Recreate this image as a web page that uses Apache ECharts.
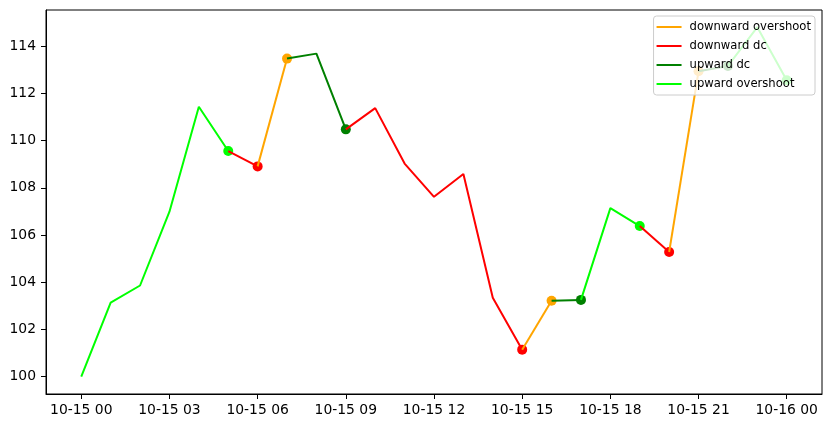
<!DOCTYPE html>
<html>
<head>
<meta charset="utf-8">
<script src="https://cdn.jsdelivr.net/npm/echarts@6/dist/echarts.min.js"></script>
<style>
html,body{margin:0;padding:0;background:#fff;}
#chart{width:831px;height:428px;}
</style>
</head>
<body>
<div id="chart"></div>
<script>
// hours since 10-15 00:00
const hours = [0,1,2,3,4,5,6,7,8,9,10,11,12,13,14,15,16,17,18,19,20,21,22,23,24];
const prices = [100.0,103.13,103.86,106.99,111.44,109.56,108.91,113.48,113.69,110.48,111.38,109.03,107.62,108.59,103.34,101.14,103.21,103.25,107.14,106.38,105.28,112.94,113.17,114.81,112.56];

// event segments (start index, end index, type)
const segStart = [0,5,6,7,9,15,16,17,19,20,21,22];
const segEnd   = [5,6,7,9,15,16,17,19,20,21,22,24];
const segType  = ['upward overshoot','downward dc','downward overshoot','upward dc','downward dc','downward overshoot','upward dc','upward overshoot','downward dc','downward overshoot','upward dc','upward overshoot'];

const legendNames = ['downward overshoot','downward dc','upward dc','upward overshoot'];
const typeColors = {'downward overshoot':'#ffa500','downward dc':'#ff0000','upward dc':'#008000','upward overshoot':'#00ff00'};

const xTickHours = [0,3,6,9,12,15,18,21,24];
const xTickLabels = ['10-15 00','10-15 03','10-15 06','10-15 09','10-15 12','10-15 15','10-15 18','10-15 21','10-16 00'];
const yTicks = [100,102,104,106,108,110,112,114];

const pts = hours.map((h,i)=>[h,prices[i]]);

const series = [];
// markers at the end of each segment
segEnd.forEach((e,k)=>{
  series.push({
    name:'marker'+k, type:'scatter', data:[pts[e]], symbolSize:10,
    itemStyle:{color:typeColors[segType[k]],opacity:1}, silent:true, z:2
  });
});
segStart.forEach((s,k)=>{
  series.push({
    name:segType[k], type:'line', data:pts.slice(s,segEnd[k]+1),
    symbol:'none', color:typeColors[segType[k]],
    lineStyle:{width:2,color:typeColors[segType[k]]}, silent:true, z:3
  });
});

const fontFam = 'DejaVu Sans';
const option = {
  animation:false,
  grid:{left:46,right:9,top:10,bottom:34,show:true,borderColor:'#000',borderWidth:1,backgroundColor:'transparent'},
  xAxis:{
    type:'value', min:-1.2, max:25.2,
    axisLine:{show:true,onZero:false,lineStyle:{color:'#000',width:1}},
    splitLine:{show:false},
    axisTick:{show:true,customValues:xTickHours,length:5,lineStyle:{color:'#000'}},
    axisLabel:{customValues:xTickHours,margin:9,color:'#000',fontFamily:fontFam,fontSize:13.9,
      formatter:(v)=>{const i=xTickHours.indexOf(Math.round(v));return i>=0?xTickLabels[i]:'';}}
  },
  yAxis:{
    type:'value', min:99.26, max:115.54,
    axisLine:{show:true,onZero:false,lineStyle:{color:'#000',width:1}},
    splitLine:{show:false},
    axisTick:{show:true,customValues:yTicks,length:5,lineStyle:{color:'#000'}},
    axisLabel:{customValues:yTicks,margin:10,color:'#000',fontFamily:fontFam,fontSize:13.9,formatter:(v)=>String(Math.round(v))}
  },
  legend:{
    data:legendNames.map(n=>({name:n,icon:'rect',itemStyle:{color:typeColors[n]}})),
    orient:'vertical', right:16, top:16,
    itemWidth:25, itemHeight:2, itemGap:5,
    padding:[4,4,4,3],
    backgroundColor:'rgba(255,255,255,0.8)', borderColor:'#cccccc', borderWidth:1, borderRadius:3,
    textStyle:{fontFamily:fontFam,fontSize:11.6,lineHeight:14,color:'#000',padding:[0,0,0,3]},
    selectedMode:false, z:10
  },
  series:series
};
const chart = echarts.init(document.getElementById('chart'),null,{renderer:'canvas'});
chart.setOption(option);
</script>
</body>
</html>
